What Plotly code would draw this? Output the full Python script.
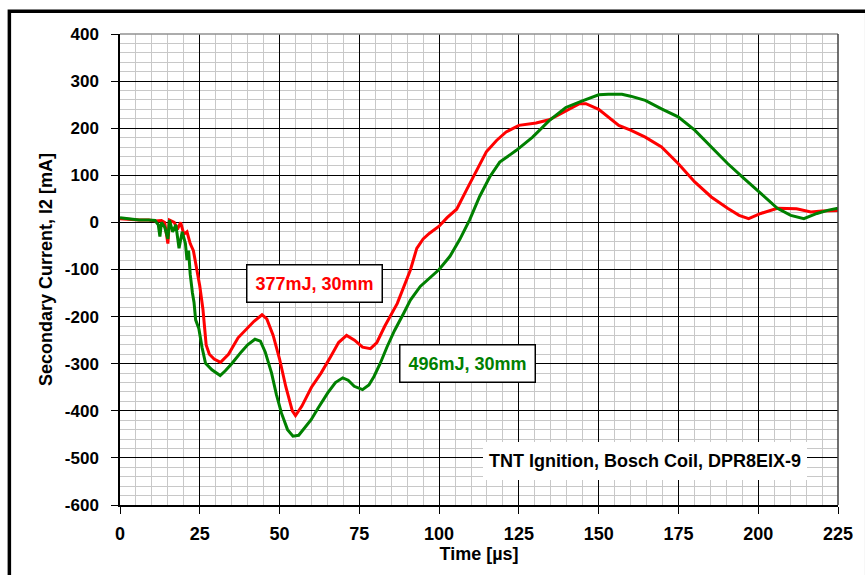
import plotly.graph_objects as go

# ---- data ----
t_377 = [0, 3, 6, 9, 11, 13, 14, 15, 15.5, 17, 18, 19, 20, 21, 22, 23, 24, 25, 26, 27, 28, 29.5,
         31.5, 34, 37, 40, 42, 44.5, 46, 48, 50, 52, 54, 55, 57, 60, 63, 66, 68.5, 71, 73.5,
         76, 78.5, 80.5, 83, 86.9, 89, 91, 93, 95, 97, 100, 102.5, 105.5, 108.6, 111.7,
         114.8, 118, 121, 125, 130.4, 134.5, 139.7, 144, 146, 150, 156.3, 160, 164.6,
         169.7, 174.9, 180.1, 185.3, 190.4, 194, 197, 200.8, 206, 212, 216.5, 220, 225]
i_377 = [8, 6, 5, 5, 3, 4, 0, -45, 5, 0, -15, 0, -25, -20, -45, -60, -95, -135, -185, -260, -280, -290,
         -297, -280, -245, -225, -210, -196, -205, -240, -290, -350, -400, -410, -390, -350, -320,
         -285, -255, -240, -250, -265, -268, -255, -220, -172, -135, -101, -55, -35, -23, -8, 10,
         28, 69, 111, 150, 174, 192, 206, 211, 218, 237, 252, 252, 240, 206, 196, 181, 160, 125,
         86, 54, 30, 15, 8, 19, 30, 29, 22, 24, 25]

t_496 = [0, 3, 6, 9, 11, 12, 12.5, 13, 14, 15, 15.5, 16.5, 17.5, 18.5, 19.5, 20.5, 21, 21.5, 22,
         22.7, 23.2, 23.7, 24.7, 25.7, 26.8, 28.8, 31.4, 33, 35, 38, 40, 42.3, 44, 45.5, 47.5,
         49, 50.6, 52.5, 54.2, 56, 58, 59.9, 62, 65.1, 67.5, 69.8, 71.5, 73.4, 76, 78, 79.6,
         81.5, 83.7, 86, 88.9, 91, 94.1, 97.2, 100, 103.4, 106.5, 109.6, 112.7, 115.9, 119,
         124.2, 129.3, 134.5, 139.7, 144.9, 150, 153, 157.3, 160, 164.6, 169.7, 174.9, 180.1,
         185.3, 190.4, 195.6, 200.8, 206, 210.2, 214.3, 218.4, 222, 225]
i_496 = [10, 8, 5, 5, 4, -5, -30, 0, -10, -35, 5, -20, -5, -55, -20, -45, -80, -60, -110,
         -150, -170, -207, -225, -265, -299, -313, -325, -315, -300, -275, -260, -248, -252,
         -275, -320, -365, -405, -440, -454, -452, -435, -419, -395, -362, -340, -330, -335,
         -348, -355, -345, -327, -300, -264, -230, -193, -165, -136, -117, -100, -72, -36, 6,
         55, 97, 128, 153, 181, 216, 244, 258, 271, 272, 272, 268, 259, 241, 224, 196, 160,
         125, 93, 61, 30, 15, 8, 19, 26, 30]

x_ticks = [0, 25, 50, 75, 100, 125, 150, 175, 200, 225]
y_ticks = [-600, -500, -400, -300, -200, -100, 0, 100, 200, 300, 400]

FONT = "Liberation Sans, Arial, sans-serif"

fig = go.Figure()
fig.add_trace(go.Scatter(x=t_377, y=i_377, mode="lines", line=dict(color="#ff0000", width=3),
                         name="377mJ, 30mm"))
fig.add_trace(go.Scatter(x=t_496, y=i_496, mode="lines", line=dict(color="#008000", width=3),
                         name="496mJ, 30mm"))

fig.update_layout(
    width=865, height=575,
    margin=dict(l=120, r=21, t=34, b=70),
    paper_bgcolor="white", plot_bgcolor="white",
    showlegend=False,
    font=dict(family=FONT, color="black"),
)

fig.update_xaxes(
    range=[0, 225], tickvals=x_ticks, ticktext=[str(v) for v in x_ticks],
    showgrid=True, gridcolor="black", gridwidth=1,
    minor=dict(dtick=5, tick0=0, showgrid=True, gridcolor="#c8c8c8", gridwidth=1),
    ticks="outside", ticklen=7, tickcolor="black", tickwidth=1,
    showline=True, linecolor="black", linewidth=1.5, zeroline=False,
    tickfont=dict(family=FONT, size=18, weight="bold"),
    ticklabelstandoff=5,
    title=dict(text="Time [µs]", font=dict(family=FONT, size=18, weight="bold"), standoff=1),
)
fig.update_yaxes(
    range=[-600, 400], tickvals=y_ticks, ticktext=[str(v) for v in y_ticks],
    showgrid=True, gridcolor="black", gridwidth=1,
    minor=dict(dtick=20, tick0=0, showgrid=True, gridcolor="#c8c8c8", gridwidth=1),
    ticks="outside", ticklen=7, tickcolor="black", tickwidth=1,
    showline=True, linecolor="black", linewidth=1.5, zeroline=False,
    tickfont=dict(family=FONT, size=17, weight="bold"),
    ticklabelstandoff=9,
    title=dict(text="Secondary Current, I2 [mA]", font=dict(family=FONT, size=18, weight="bold"),
               standoff=8),
)

# plot-area top/right edges and outer frame
fig.add_shape(type="line", xref="paper", yref="paper", x0=0, x1=1, y0=1, y1=1,
              line=dict(color="#909090", width=1.5))
fig.add_shape(type="line", xref="paper", yref="paper", x0=1, x1=1, y0=0, y1=1,
              line=dict(color="#404040", width=1.5))
fig.add_shape(type="rect", xref="paper", yref="paper", x0=-0.1541, x1=1.04, y0=-0.2, y1=1.0483,
              line=dict(color="black", width=3.5), fillcolor="rgba(0,0,0,0)")

fig.add_annotation(x=60.8, y=-129, text="377mJ, 30mm", showarrow=False,
                   font=dict(family=FONT, size=18, color="#ff0000", weight="bold"),
                   bgcolor="white", bordercolor="black", borderwidth=1.5, borderpad=8)
fig.add_annotation(x=108.9, y=-300, text="496mJ, 30mm", showarrow=False,
                   font=dict(family=FONT, size=18, color="#008000", weight="bold"),
                   bgcolor="white", bordercolor="black", borderwidth=1.5, borderpad=8)
fig.add_annotation(x=164.6, y=-506, text="TNT Ignition, Bosch Coil, DPR8EIX-9", showarrow=False,
                   font=dict(family=FONT, size=18, color="black", weight="bold"),
                   width=316, height=30,
                   bgcolor="white", borderwidth=0, borderpad=4)

fig.write_html("out.html")
